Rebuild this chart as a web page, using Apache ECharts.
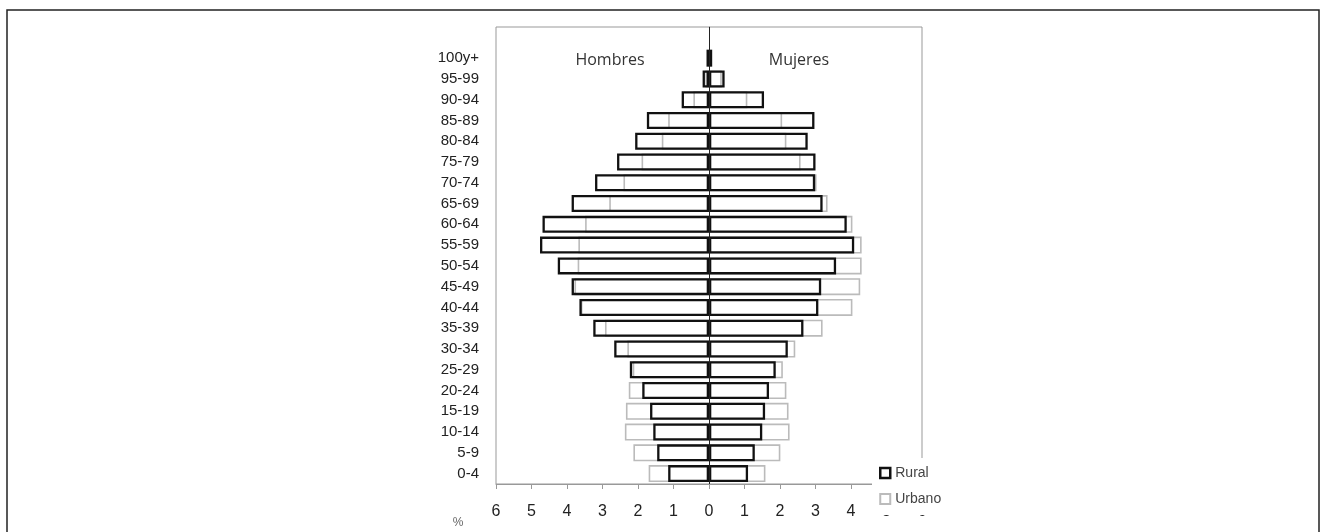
<!DOCTYPE html>
<html>
<head>
<meta charset="utf-8">
<script src="https://cdn.jsdelivr.net/npm/echarts@6/dist/echarts.min.js"></script>
<style>
  html, body { margin: 0; padding: 0; background: #fff; }
  #chart { width: 1322px; height: 532px; }
</style>
</head>
<body>
<div id="chart"></div>
<script>
// grupos de edad, de abajo hacia arriba ('' = franja vacia arriba)
var edades = ['0-4', '5-9', '10-14', '15-19', '20-24', '25-29', '30-34', '35-39', '40-44', '45-49',
  '50-54', '55-59', '60-64', '65-69', '70-74', '75-79', '80-84', '85-89', '90-94', '95-99', '100y+', '']

// % de poblacion
var ruralHombres = [1.15, 1.46, 1.57, 1.66, 1.88, 2.23, 2.67, 3.26, 3.65, 3.87, 4.26, 4.76, 4.69, 3.87, 3.21, 2.59, 2.08, 1.75, 0.77, 0.18, 0.07]
var urbanoHombres = [1.70, 2.13, 2.37, 2.34, 2.26, 2.15, 2.30, 2.93, 3.61, 3.79, 3.70, 3.68, 3.49, 2.81, 2.41, 1.90, 1.33, 1.15, 0.44, 0.10, 0.02]
var ruralMujeres = [1.10, 1.29, 1.50, 1.58, 1.69, 1.88, 2.22, 2.66, 3.08, 3.16, 3.58, 4.09, 3.88, 3.20, 2.99, 3.00, 2.78, 2.97, 1.55, 0.44, 0.09]
var urbanoMujeres = [1.59, 2.01, 2.27, 2.24, 2.18, 2.08, 2.43, 3.20, 4.04, 4.26, 4.30, 4.30, 4.04, 3.34, 3.03, 2.58, 2.18, 2.06, 1.08, 0.36, 0.03]

var ruralStyle = { color: 'rgba(255,255,255,0)', borderColor: '#111', borderWidth: 2.3 }
var urbanoStyle = { color: 'rgba(255,255,255,0)', borderColor: '#bbb', borderWidth: 1.6 }

var chart = echarts.init(document.getElementById('chart'))
chart.setOption({
  animation: false,
  backgroundColor: '#fff',
  grid: {
    left: 496, right: 400, top: 27, bottom: 48,
    show: true, borderColor: '#999', borderWidth: 1
  },
  legend: {
    orient: 'vertical',
    left: 872, top: 458,
    padding: [8, 6, 9, 7],
    backgroundColor: '#fff',
    itemWidth: 10, itemHeight: 10, itemGap: 12,
    textStyle: { fontFamily: 'Liberation Sans', fontSize: 14, color: '#444' },
    data: [
      { name: 'Rural', icon: 'rect', itemStyle: { color: '#fff', borderColor: '#111', borderWidth: 2.5 } },
      { name: 'Urbano', icon: 'rect', itemStyle: { color: '#fff', borderColor: '#bbb', borderWidth: 2 } }
    ]
  },
  xAxis: {
    type: 'value',
    min: -6, max: 6, interval: 1,
    axisLine: { show: true, lineStyle: { color: '#999' } },
    axisTick: { show: true, length: 5, lineStyle: { color: '#999' } },
    splitLine: { show: false },
    axisLabel: {
      margin: 20,
      fontFamily: 'Liberation Sans', fontSize: 16, color: '#222',
      formatter: function (v) { return Math.abs(v) }
    }
  },
  yAxis: {
    type: 'category',
    data: edades,
    axisLine: { show: true, lineStyle: { color: '#999' } },
    axisTick: { show: false },
    axisLabel: { interval: 0, margin: 17, fontFamily: 'Liberation Sans', fontSize: 15, color: '#222' }
  },
  series: [
    {
      name: 'Urbano', type: 'bar', stack: 'urbano', barWidth: 17, barGap: '-100%',
      itemStyle: urbanoStyle,
      data: urbanoHombres.map(function (v) { return -v })
    },
    {
      name: 'Urbano', type: 'bar', stack: 'urbano', barWidth: 17, barGap: '-100%',
      itemStyle: urbanoStyle,
      data: urbanoMujeres
    },
    {
      name: 'Rural', type: 'bar', stack: 'rural', barWidth: 17, barGap: '-100%',
      itemStyle: ruralStyle,
      data: ruralHombres.map(function (v) { return -v })
    },
    {
      name: 'Rural', type: 'bar', stack: 'rural', barWidth: 17, barGap: '-100%',
      itemStyle: ruralStyle,
      data: ruralMujeres,
      markLine: {
        silent: true, symbol: 'none', label: { show: false },
        lineStyle: { color: '#222', width: 1, type: 'solid' },
        data: [{ xAxis: 0 }]
      }
    }
  ],
  graphic: [
    { type: 'rect', shape: { x: 7, y: 10, width: 1312, height: 540 }, style: { fill: 'none', stroke: '#222', lineWidth: 1.5 }, silent: true },
    { type: 'text', x: 610, y: 60, style: { text: 'Hombres', fontFamily: 'Open Sans', fontSize: 16, fill: '#333', align: 'center', verticalAlign: 'middle' } },
    { type: 'text', x: 799, y: 60, style: { text: 'Mujeres', fontFamily: 'Open Sans', fontSize: 16, fill: '#333', align: 'center', verticalAlign: 'middle' } },
    { type: 'text', x: 458, y: 523, style: { text: '%', fontFamily: 'Liberation Sans', fontSize: 12, fill: '#666', align: 'center', verticalAlign: 'middle' } }
  ]
})
</script>
</body>
</html>
